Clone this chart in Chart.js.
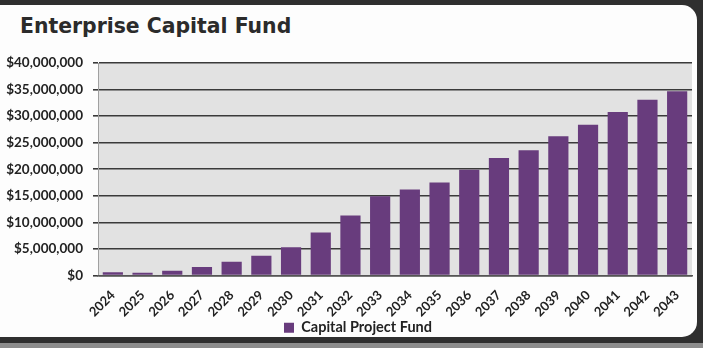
<!DOCTYPE html>
<html>
<head>
<meta charset="utf-8">
<script src="https://cdn.jsdelivr.net/npm/chart.js@4.4.1/dist/chart.umd.min.js"></script>
<style>
    html, body {
        margin: 0;
        padding: 0;
        width: 703px;
        height: 348px;
        overflow: hidden;
        background: #8d8d8d;
    }
    .edge {
        position: absolute;
        left: 0;
        top: 0;
        width: 703px;
        height: 343px;
        background: #2f2f2f;
    }
    .card {
        position: absolute;
        left: -20px;
        top: 5px;
        width: 717px;
        height: 332px;
        background: #fdfdfd;
        border-radius: 15px;
    }
    .title {
        position: absolute;
        left: 20px;
        top: 14px;
        font-family: 'DejaVu Sans', sans-serif;
        font-weight: bold;
        font-size: 20.4px;
        color: #2b2b2b;
        white-space: nowrap;
    }
    .wrap {
        position: absolute;
        left: 0;
        top: 0;
        width: 703px;
        height: 348px;
    }
</style>
</head>
<body>
<div class="edge"></div>
<div class="card"></div>
<div class="title">Enterprise Capital Fund</div>
<div class="wrap"><canvas id="fundChart" width="703" height="348"></canvas></div>
<script>
const years = ['2024', '2025', '2026', '2027', '2028', '2029', '2030', '2031', '2032', '2033',
    '2034', '2035', '2036', '2037', '2038', '2039', '2040', '2041', '2042', '2043'];
const capitalProjectFund = [600000, 500000, 900000, 1600000, 2600000, 3700000, 5300000, 8100000, 11300000, 14900000,
    16200000, 17500000, 19900000, 22100000, 23600000, 26200000, 28400000, 30800000, 33100000, 34700000];
const yTicks = [0, 5000000, 10000000, 15000000, 20000000, 25000000, 30000000, 35000000, 40000000];

// grey fill behind the bars
const plotBackground = {
    id: 'plotBackground',
    beforeDraw(chart) {
        const { ctx, chartArea } = chart;
        ctx.save();
        ctx.fillStyle = '#e2e2e2';
        ctx.fillRect(chartArea.left, chartArea.top, chartArea.right - chartArea.left, chartArea.bottom - chartArea.top);
        ctx.restore();
    },
};

// centre the legend under the plot area instead of the whole canvas
const legendUnderPlot = {
    id: 'legendUnderPlot',
    afterLayout(chart) {
        if (chart.legend) {
            chart.legend.left += 20;
        }
    },
};

const ctx = document.getElementById('fundChart').getContext('2d');
const fundChart = new Chart(ctx, {
    type: 'bar',
    data: {
        labels: years,
        datasets: [
            {
                label: 'Capital Project Fund',
                data: capitalProjectFund,
                backgroundColor: '#683c7d',
                borderWidth: 0,
                categoryPercentage: 1,
                barPercentage: 0.68,
            },
        ],
    },
    options: {
        responsive: false,
        animation: false,
        layout: {
            padding: { left: 4, right: 11, top: 63, bottom: 3 },
        },
        scales: {
            y: {
                min: 0,
                max: 40000000,
                afterBuildTicks: (scale) => {
                    scale.ticks = yTicks.map((v) => ({ value: v }));
                },
                afterFit: (scale) => {
                    scale.width = 94;
                },
                ticks: {
                    padding: 10,
                    color: '#222',
                    font: { family: 'Lato', size: 13.5, weight: 'bold' },
                    callback: (value) => '$' + Number(value).toLocaleString('en-US'),
                },
                grid: {
                    color: '#3a3a3a',
                    lineWidth: 1.6,
                    tickLength: 5,
                },
                border: {
                    display: true,
                    color: '#a0a0a0',
                    width: 1,
                },
            },
            x: {
                afterFit: (scale) => {
                    scale.height = 45;
                },
                ticks: {
                    minRotation: 45,
                    maxRotation: 45,
                    padding: 4,
                    color: '#222',
                    font: { family: 'Lato', size: 13, weight: 'bold' },
                },
                grid: {
                    display: false,
                },
                border: {
                    display: true,
                    color: '#555',
                    width: 1.5,
                },
            },
        },
        plugins: {
            legend: {
                position: 'bottom',
                labels: {
                    boxWidth: 10,
                    boxHeight: 10,
                    padding: 0,
                    color: '#222',
                    font: { family: 'Lato', size: 14.5, weight: 'bold' },
                },
            },
            tooltip: {
                callbacks: {
                    label: function (context) {
                        return 'Capital Project Fund: $' + context.parsed.y.toLocaleString('en-US');
                    },
                },
            },
        },
    },
    plugins: [plotBackground, legendUnderPlot],
});
</script>
</body>
</html>
